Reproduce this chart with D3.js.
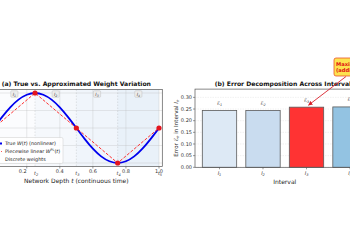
<!DOCTYPE html>
<html><head><meta charset="utf-8">
<script src="https://cdn.jsdelivr.net/npm/d3@7"></script>
<style>
body{margin:0;background:#fff;}
svg{display:block;font-family:"DejaVu Sans",sans-serif;}
</style></head>
<body><svg id="c" width="350" height="250"></svg>
<script>
// ---------- data ----------
const tSamples = [0,0.05,0.1,0.15,0.2,0.25,0.3,0.35,0.4,0.45,0.5,0.55,0.6,0.65,0.7,0.75,0.8,0.85,0.9,0.95,1.0];
const wTrue    = [0,0.31,0.59,0.81,0.95,1.0,0.95,0.81,0.59,0.31,0,-0.31,-0.59,-0.81,-0.95,-1.0,-0.95,-0.81,-0.59,-0.31,0];
const knotT    = [0,0.25,0.5,0.75,1.0];
const knotW    = [0,1.0,0,-1.0,0];
const knotIdx  = ["1","2","3","4","5"];
const xTicksA  = [0.0,0.2,0.4,0.6,0.8,1.0];
const yTicksA  = [-1.0,-0.5,0.0,0.5,1.0];
const intervalIdx = ["1","2","3","4"];
const intervalShade = [0.02,0.05,0.08,0.11];
const errors   = [0.244,0.244,0.258,0.259];
const barFills = ["#dde9f5","#c9dcef","#ff3333","#93c3e2"];
const yTicksB  = [0.00,0.05,0.10,0.15,0.20,0.25,0.30];
const legendLabels = ["True W(t) (nonlinear)","Piecewise linear W","Discrete weights"];
const annotLines = ["Maximum error","(additive bound)"];

const svg = d3.select("#c");
const FS = 5;

// ---------- panel (a) ----------
const xA = d3.scaleLinear().domain([-0.02,1.02]).range([-9.6,162.3]);
const yA = d3.scaleLinear().domain([-1.1,1.1]).range([166.5,89.5]);
const gA = svg.append("g");
const [ax0,ax1] = xA.range(), [ay0,ay1] = yA.range();
const visible = x => x > 2; // the figure is cropped on the left

// interval shading
for (let i=0;i<4;i++){
  gA.append("rect").attr("x",xA(knotT[i])).attr("y",ay1)
    .attr("width",xA(knotT[i+1])-xA(knotT[i])).attr("height",ay0-ay1)
    .attr("fill","#3a7fc8").attr("fill-opacity",intervalShade[i]);
}
// grid
gA.selectAll(".gx").data(xTicksA).join("line")
  .attr("x1",d=>xA(d)).attr("x2",d=>xA(d)).attr("y1",ay1).attr("y2",ay0)
  .attr("stroke","#b0b0b0").attr("stroke-opacity",0.45).attr("stroke-width",0.6);
gA.selectAll(".gy").data(yTicksA).join("line")
  .attr("y1",d=>yA(d)).attr("y2",d=>yA(d)).attr("x1",ax0).attr("x2",ax1)
  .attr("stroke","#b0b0b0").attr("stroke-opacity",0.45).attr("stroke-width",0.6);
// boundaries
gA.selectAll(".bd").data(knotT.slice(1,4)).join("line")
  .attr("x1",d=>xA(d)).attr("x2",d=>xA(d)).attr("y1",ay1).attr("y2",ay0)
  .attr("stroke","#9a9a9a").attr("stroke-opacity",0.5).attr("stroke-width",0.5).attr("stroke-dasharray","1.5,1.5");

// true curve
gA.append("path").datum(tSamples.map((t,i)=>[t,wTrue[i]]))
  .attr("d",d3.line().x(d=>xA(d[0])).y(d=>yA(d[1])).curve(d3.curveNatural))
  .attr("fill","none").attr("stroke","#0000ee").attr("stroke-width",1.8);
// piecewise linear
gA.append("path").datum(knotT.map((t,i)=>[t,knotW[i]]))
  .attr("d",d3.line().x(d=>xA(d[0])).y(d=>yA(d[1])))
  .attr("fill","none").attr("stroke","#ff1a1a").attr("stroke-width",0.9).attr("stroke-dasharray","3,1.6");
// discrete points
gA.selectAll(".pt").data(knotT).join("circle")
  .attr("cx",d=>xA(d)).attr("cy",(d,i)=>yA(knotW[i])).attr("r",2.6).attr("fill","#e3141e");

// interval labels
intervalIdx.forEach((n,i)=>{
  const cx = xA((knotT[i]+knotT[i+1])/2);
  gA.append("rect").attr("x",cx-3.6).attr("y",ay1+1.2).attr("width",7.2).attr("height",6.6).attr("rx",1)
    .attr("fill","#ececec").attr("stroke","#b5b5b5").attr("stroke-width",0.4);
  const t = gA.append("text").attr("x",cx).attr("y",ay1+6.3).attr("text-anchor","middle")
    .attr("font-size",4.6).attr("fill","#444").attr("font-style","italic");
  t.append("tspan").text("I");
  t.append("tspan").attr("font-size",3.2).attr("dy",1).text(n);
});

// frame
gA.append("rect").attr("x",ax0).attr("y",ay1).attr("width",ax1-ax0).attr("height",ay0-ay1)
  .attr("fill","none").attr("stroke","#555").attr("stroke-width",0.7);

// x ticks
const xAxisA = gA.append("g");
xTicksA.forEach(v=>{
  xAxisA.append("line").attr("x1",xA(v)).attr("x2",xA(v)).attr("y1",ay0).attr("y2",ay0+2).attr("stroke","#555").attr("stroke-width",0.6);
  if (!visible(xA(v))) return;
  xAxisA.append("text").attr("x",xA(v)-(v===0.2?4:0)).attr("y",ay0+6.8).attr("text-anchor","middle")
    .attr("font-size",FS).attr("fill","#333").text(d3.format(".1f")(v));
});
// knot labels
knotT.forEach((v,i)=>{
  if (!visible(xA(v))) return;
  const t = xAxisA.append("text").attr("x",xA(v)+1).attr("y",ay0+8.2).attr("text-anchor","middle")
    .attr("font-size",FS).attr("fill","#333").attr("font-style","italic");
  t.append("tspan").text("t");
  t.append("tspan").attr("font-size",3.5).attr("dy",1.2).text(knotIdx[i]);
});

// x label
{
  const t = gA.append("text").attr("x",(ax0+ax1)/2).attr("y",183.3).attr("text-anchor","middle").attr("font-size",6).attr("fill","#222");
  t.append("tspan").text("Network Depth ");
  t.append("tspan").attr("font-style","italic").text("t");
  t.append("tspan").text(" (continuous time)");
}
// title
gA.append("text").attr("x",(ax0+ax1)/2).attr("y",86.2).attr("text-anchor","middle")
  .attr("font-size",6.1).attr("font-weight","bold").attr("fill","#111").text("(a) True vs. Approximated Weight Variation");

// legend
{
  const lg = gA.append("g");
  lg.append("rect").attr("x",-12).attr("y",137.5).attr("width",75).attr("height",26).attr("rx",1.5)
    .attr("fill","#fff").attr("fill-opacity",0.85).attr("stroke","#ccc").attr("stroke-width",0.5);
  const rows = [143.5,151.5,159.5];
  lg.append("line").attr("x1",-8).attr("x2",2).attr("y1",rows[0]).attr("y2",rows[0]).attr("stroke","#0000ee").attr("stroke-width",1.8);
  lg.append("line").attr("x1",-8).attr("x2",2).attr("y1",rows[1]).attr("y2",rows[1]).attr("stroke","#ff1a1a").attr("stroke-width",0.9).attr("stroke-dasharray","3,1.6");
  lg.append("circle").attr("cx",-3).attr("cy",rows[2]).attr("r",2.4).attr("fill","#e3141e");
  const t0 = lg.append("text").attr("x",5).attr("y",rows[0]+1.7).attr("font-size",4.9).attr("fill","#222");
  t0.append("tspan").text("True ");
  t0.append("tspan").attr("font-style","italic").text("W");
  t0.append("tspan").text("(");
  t0.append("tspan").attr("font-style","italic").text("t");
  t0.append("tspan").text(") (nonlinear)");
  const t1 = lg.append("text").attr("x",5).attr("y",rows[1]+1.7).attr("font-size",4.9).attr("fill","#222");
  t1.append("tspan").text("Piecewise linear ");
  t1.append("tspan").attr("font-style","italic").text("W");
  t1.append("tspan").attr("font-size",3.3).attr("dy",-2).text("PL");
  t1.append("tspan").attr("dy",2).text("(");
  t1.append("tspan").attr("font-style","italic").text("t");
  t1.append("tspan").text(")");
  lg.append("text").attr("x",5).attr("y",rows[2]+1.7).attr("font-size",4.9).attr("fill","#222").text(legendLabels[2]);
}

// ---------- panel (b) ----------
const xB = d3.scaleLinear().domain([-0.563,3.563]).range([195,374.5]);
const yB = d3.scaleLinear().domain([0,0.3355]).range([167.3,89.1]);
const gB = svg.append("g");
const [bx0,bx1] = xB.range(), [by0,by1] = yB.range();
const barW = 0.79;

gB.selectAll(".gyb").data(yTicksB).join("line")
  .attr("y1",d=>yB(d)).attr("y2",d=>yB(d)).attr("x1",bx0).attr("x2",bx1)
  .attr("stroke","#c8c8c8").attr("stroke-opacity",0.5).attr("stroke-width",0.5).attr("stroke-dasharray","1.5,1");

gB.selectAll(".bar").data(errors).join("rect")
  .attr("x",(d,i)=>xB(i-barW/2)).attr("width",xB(barW)-xB(0))
  .attr("y",d=>yB(d)).attr("height",d=>yB(0)-yB(d))
  .attr("fill",(d,i)=>barFills[i]).attr("stroke","#5a5a5a").attr("stroke-width",0.8);

// bar labels
errors.forEach((v,i)=>{
  const t = gB.append("text").attr("x",xB(i)).attr("y",yB(v)-5.5).attr("text-anchor","middle")
    .attr("font-size",5).attr("fill","#333").attr("font-style","italic");
  t.append("tspan").text("ℰ");
  t.append("tspan").attr("font-size",3.4).attr("dy",1.2).text(intervalIdx[i]);
});

// frame
gB.append("rect").attr("x",bx0).attr("y",by1).attr("width",bx1-bx0).attr("height",by0-by1)
  .attr("fill","none").attr("stroke","#555").attr("stroke-width",0.7);

// y ticks
yTicksB.forEach(v=>{
  gB.append("line").attr("x1",bx0-2).attr("x2",bx0).attr("y1",yB(v)).attr("y2",yB(v)).attr("stroke","#555").attr("stroke-width",0.6);
  gB.append("text").attr("x",bx0-3).attr("y",yB(v)+1.8).attr("text-anchor","end").attr("font-size",FS).attr("fill","#333").text(d3.format(".2f")(v));
});
// x ticks
intervalIdx.forEach((n,i)=>{
  gB.append("line").attr("x1",xB(i)).attr("x2",xB(i)).attr("y1",by0).attr("y2",by0+2).attr("stroke","#555").attr("stroke-width",0.6);
  const t = gB.append("text").attr("x",xB(i)).attr("y",by0+7.3).attr("text-anchor","middle")
    .attr("font-size",FS).attr("fill","#333").attr("font-style","italic");
  t.append("tspan").text("I");
  t.append("tspan").attr("font-size",3.5).attr("dy",1.2).text(n);
});
// labels
gB.append("text").attr("x",(bx0+bx1)/2).attr("y",184.2).attr("text-anchor","middle").attr("font-size",6).attr("fill","#222").text("Interval");
{
  const t = gB.append("text").attr("transform","translate(177.5,"+((by0+by1)/2)+") rotate(-90)")
    .attr("text-anchor","middle").attr("font-size",5.6).attr("fill","#222");
  t.append("tspan").text("Error ");
  t.append("tspan").attr("font-style","italic").text("ℰ");
  t.append("tspan").attr("font-style","italic").attr("font-size",3.8).attr("dy",1.2).text("n");
  t.append("tspan").attr("dy",-1.2).text(" in Interval ");
  t.append("tspan").attr("font-style","italic").text("I");
  t.append("tspan").attr("font-style","italic").attr("font-size",3.8).attr("dy",1.2).text("n");
}
gB.append("text").attr("x",(bx0+bx1)/2).attr("y",86.2).attr("text-anchor","middle")
  .attr("font-size",6.1).attr("font-weight","bold").attr("fill","#111").text("(b) Error Decomposition Across Intervals");

// annotation
{
  const target = [xB(2)+2, yB(errors[2])-2];
  const defs = svg.append("defs");
  defs.append("marker").attr("id","ah").attr("viewBox","0 0 10 10").attr("refX",9).attr("refY",5)
    .attr("markerWidth",5).attr("markerHeight",5).attr("orient","auto")
    .append("path").attr("d","M0,0L10,5L0,10z").attr("fill","#d8202a");
  svg.append("line").attr("x1",346).attr("y1",76.5).attr("x2",target[0]).attr("y2",target[1])
    .attr("stroke","#d8202a").attr("stroke-width",0.9).attr("marker-end","url(#ah)");
  svg.append("rect").attr("x",334).attr("y",58).attr("width",40).attr("height",18).attr("rx",2)
    .attr("fill","#fde350").attr("stroke","#e8542a").attr("stroke-width",0.8);
  annotLines.forEach((s,i)=>{
    svg.append("text").attr("x",336).attr("y",65.5+i*6.5).attr("font-size",5.2).attr("font-weight","bold")
      .attr("fill","#e01010").text(s);
  });
}
</script></body></html>
